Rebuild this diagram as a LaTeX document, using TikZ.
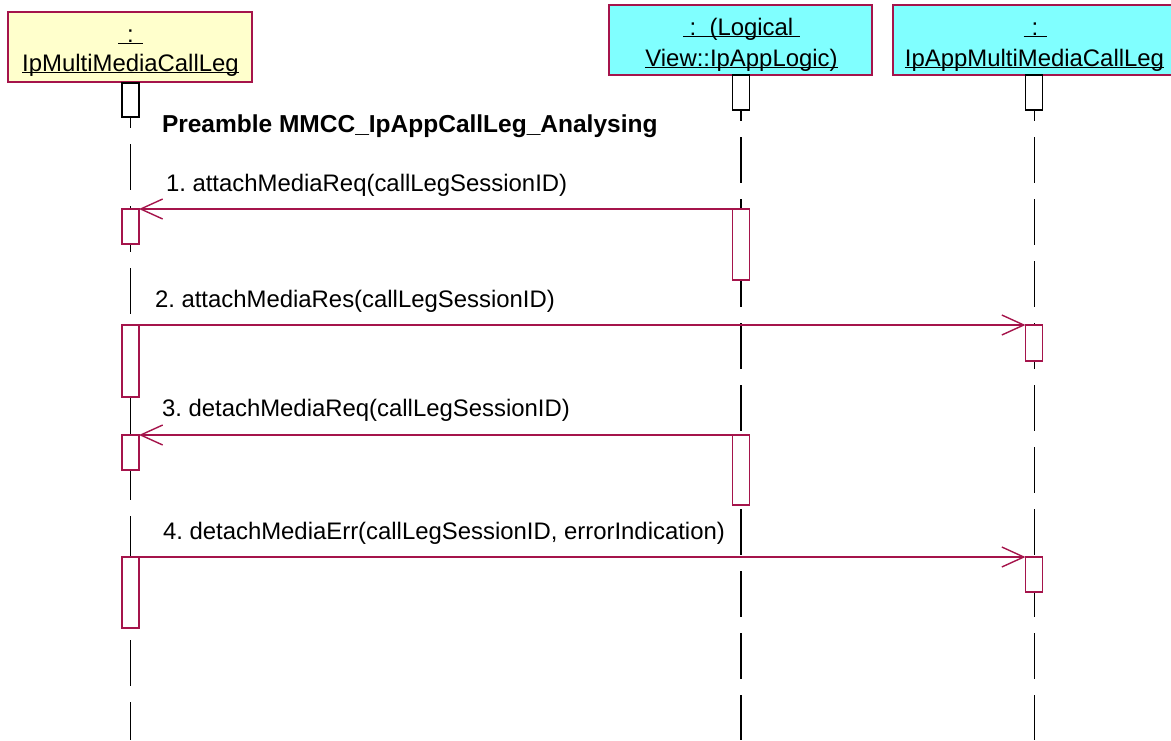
\documentclass[tikz,border=0pt]{standalone}
\usepackage{fontspec}
\setmainfont{Liberation Sans}
\usetikzlibrary{arrows.meta}
\definecolor{rosered}{RGB}{165,20,75}
\definecolor{objyellow}{RGB}{255,255,204}
\definecolor{objcyan}{RGB}{128,255,255}
\newcommand{\myul}[1]{\setbox0\hbox{#1}\rlap{\rule[-2.4pt]{\wd0}{1.3pt}}\box0}
\frenchspacing
\begin{document}
\begin{tikzpicture}[x=1pt,y=-1pt,
  obj/.style={draw=rosered, line width=1.2pt, inner sep=0pt, outer sep=0pt, anchor=north west},
  life/.style={draw=black, line width=1.4pt, dash pattern=on 46pt off 16pt},
  act/.style={fill=white, line width=1.4pt, minimum width=17pt, inner sep=0pt, outer sep=0pt, anchor=north},
  topact/.style={act, draw=black},
  msgact/.style={act, draw=rosered},
  msg/.style={draw=rosered, line width=1.4pt, -{Straight Barb[length=22pt,width=20pt]}},
  lbl/.style={font=\fontsize{23.9}{28}\selectfont, inner sep=0pt, outer sep=0pt},
  ttl/.style={font=\fontsize{24.5}{28}\selectfont\bfseries, inner sep=0pt, outer sep=0pt}]
\useasboundingbox (0,0) rectangle (1171,740);
\clip (0,0) rectangle (1171,740);
% objects
\node[obj, fill=objyellow, minimum width=244pt, minimum height=70pt] (o1) at (8,12) {};
\node[obj, fill=objcyan, minimum width=263pt, minimum height=70pt] (o2) at (609,5) {};
\node[obj, fill=objcyan, minimum width=283pt, minimum height=70pt] (o3) at (893,5) {};
% object labels
\node[lbl, anchor=base] (o1a) at (130.5,42) {\myul{\makebox[25pt]{:}}};
\node[lbl, anchor=base] (o1b) at (130.5,71) {\myul{IpMultiMediaCallLeg}};
\node[lbl, anchor=base] (o2a) at (741.5,35) {\myul{\ :\ \ (Logical\ }};
\node[lbl, anchor=base] (o2b) at (741.5,66) {\myul{View::IpAppLogic)}};
\node[lbl, anchor=base] (o3a) at (1035,35) {\myul{\makebox[23pt]{:}}};
\node[lbl, anchor=base] (o3b) at (1034.5,66) {\myul{IpAppMultiMediaCallLeg}};
% lifelines
\coordinate (e1) at (130.5,740);
\coordinate (e2) at (741,740);
\coordinate (e3) at (1034.5,740);
\draw[life] (o1.south -| e1) -- (e1);
\draw[life] (o2.south -| e2) -- (e2);
\draw[life] (o3.south -| e3) -- (e3);
% top activations
\node[topact, minimum height=34pt] (t1) at (130.5,83) {};
\node[topact, minimum height=35pt] (t2) at (741,75) {};
\node[topact, minimum height=35pt] (t3) at (1034,75) {};
% title
\node[ttl, anchor=base west] (title) at (162,132) {Preamble MMCC\_IpAppCallLeg\_Analysing};
% activations
\node[msgact, minimum height=35pt] (a1) at (130.5,209) {};
\node[msgact, minimum height=71pt] (b1) at (741,209) {};
\node[msgact, minimum height=72pt] (a2) at (130.5,325) {};
\node[msgact, minimum height=36pt] (c1) at (1034,325) {};
\node[msgact, minimum height=35pt] (a3) at (130.5,435) {};
\node[msgact, minimum height=70pt] (b2) at (741,435) {};
\node[msgact, minimum height=35pt] (c2) at (1034,557) {};
\node[msgact, minimum height=71pt] (a4) at (130.5,557) {};
% messages
\draw[msg] (b1.north west) -- (a1.north east);
\draw[msg] (a2.north east) -- (c1.north west);
\draw[msg] (b2.north west) -- (a3.north east);
\draw[msg] (a4.north east) -- (c2.north west);
% message labels
\node[lbl, anchor=base west] (m1) at (166,191) {1. attachMediaReq(callLegSessionID)};
\node[lbl, anchor=base west] (m2) at (155,307) {2. attachMediaRes(callLegSessionID)};
\node[lbl, anchor=base west] (m3) at (162,416) {3. detachMediaReq(callLegSessionID)};
\node[lbl, anchor=base west] (m4) at (163,539) {4. detachMediaErr(callLegSessionID, errorIndication)};
\end{tikzpicture}
\end{document}
